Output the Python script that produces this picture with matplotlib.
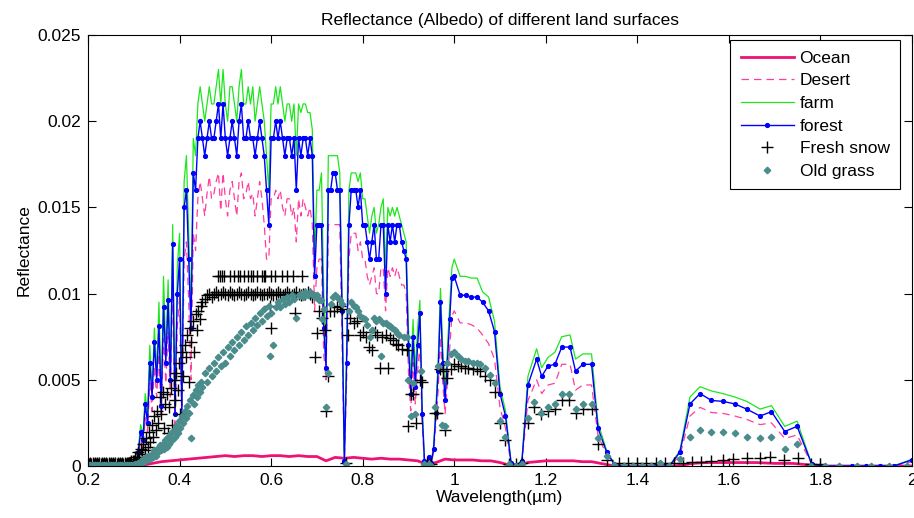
import numpy as np
import matplotlib
matplotlib.use("Agg")
import matplotlib.pyplot as plt

plt.rcParams['font.family'] = ['Liberation Sans', 'DejaVu Sans']

# ---- wavelength grids (um) ----
wl_uv = [0.20, 0.25, 0.29]
wl_band = np.round(np.arange(0.300, 1.0001, 0.005), 3)          # 0.300 .. 1.000
wl_ir = [1.013, 1.025, 1.037, 1.05, 1.062, 1.075, 1.088, 1.10, 1.112, 1.124,
         1.136, 1.148, 1.161, 1.18, 1.191, 1.205, 1.22, 1.235, 1.253, 1.265,
         1.281, 1.30, 1.314, 1.333, 1.35, 1.37, 1.39, 1.41, 1.43, 1.45,
         1.47, 1.493, 1.515, 1.537, 1.562, 1.587, 1.613, 1.639, 1.668, 1.693,
         1.722, 1.749, 1.781, 1.81, 1.84, 1.87, 1.90, 1.93, 1.96, 2.0]

# ---- reflectance, units of 1e-3 ----
zeros_uv = [0.0, 0.0, 0.0]

forest_band = [
    0, 0.2, 0.8, 2.0, 1.5, 3.6, 2.5, 6.0, 4.0, 7.2,
    5.0, 8.1, 3.5, 9.2, 6.0, 9.6, 5.0, 12.9, 3.0, 10.0,
    12.0, 3.0, 15.0, 16.0, 12.0, 8.0, 17.0, 16.0, 19.0, 20.0,
    19, 18, 19, 20, 19, 19, 20, 21, 19, 21,
    19, 18, 19, 20, 19, 18, 20, 21, 19, 19,
    20, 19, 19, 18, 19, 20, 19, 18, 16, 14,
    19, 19, 20, 19, 20, 19, 18, 19, 19, 18,
    19, 16, 19, 18, 19, 19, 18, 19, 18, 11,
    14, 14, 14, 8, 5.7, 16, 16, 17, 17, 16,
    16, 9, 0.3, 6, 14, 16, 16, 16, 15, 16,
    14, 14, 13, 12, 13, 14, 12, 12, 14, 14,
    10, 14, 13, 14, 13, 14, 14, 13, 12.5, 12,
    7, 4.2, 7.5, 4.6, 7, 8.9, 3, 0.3, 0.1, 0.5,
    0.2, 1.0, 3.1, 5.5, 9.5, 6.0, 3.8, 6.0, 8.5, 10.9,
    11.0]
forest_ir = [
    9.9, 9.9, 9.8, 9.8, 9.5, 9.0, 7.8, 4.2, 2.9, 0.2,
    0.0, 0.3, 4.7, 6.2, 5.2, 5.8, 5.9, 6.9, 6.9, 5.5,
    5.9, 5.9, 2.2, 0.8, 0.1, 0, 0, 0, 0, 0.15,
    0, 0.8, 3.6, 4.2, 3.8, 3.75, 3.6, 3.3, 2.9, 3.15,
    2.0, 2.3, 0.1, 0, 0, 0, 0, 0, 0, 0.35]

farm_band = [
    0, 0.3, 1.0, 2.4, 1.8, 4.2, 3.0, 7.0, 4.5, 8.0,
    5.5, 9.5, 4.0, 11.0, 6.5, 10.8, 5.5, 14.0, 3.5, 11.5,
    13.5, 3.5, 16.5, 18.0, 13.5, 9.0, 19.0, 18.0, 21.0, 22.0,
    21, 20, 21, 22, 21, 21, 22, 23, 21, 23,
    21, 20, 22, 22, 21, 20, 22, 23, 21, 21,
    22, 21, 22, 20, 21, 22, 21, 20, 18, 16,
    21, 21, 22, 21, 22, 21, 20, 21, 21, 20,
    21, 18, 21, 20.5, 21, 21, 20.5, 20.5, 19.5, 12,
    16, 16, 17, 10, 7, 18, 18, 18, 18, 18,
    17, 10, 0.4, 7, 16, 17, 17, 17, 16.5, 17,
    15.5, 15.5, 14.5, 13.5, 14.5, 15, 13.5, 14, 15, 15.5,
    11.5, 15, 14.5, 15, 14.5, 15, 14.5, 14, 13.5, 13,
    8, 5, 8.5, 5.5, 8, 9.6, 3.5, 0.4, 0.1, 0.6,
    0.3, 1.2, 3.5, 6.2, 10.3, 6.8, 4.3, 6.8, 9.3, 11.5,
    12.0]
farm_ir = [
    11.0, 11.0, 10.9, 10.9, 10.1, 9.8, 8.4, 4.6, 3.2, 0.3,
    0.0, 0.4, 5.2, 6.8, 5.7, 6.3, 6.6, 7.5, 7.6, 6.2,
    6.5, 6.5, 2.5, 0.9, 0.1, 0, 0, 0, 0, 0.2,
    0, 0.9, 4.0, 4.6, 4.35, 4.2, 4.0, 3.75, 3.3, 3.5,
    2.3, 2.6, 0.1, 0, 0, 0, 0, 0, 0, 0.4]

desert_band = [
    0, 0.1, 0.6, 1.5, 1.0, 2.8, 2.0, 4.8, 3.2, 5.8,
    4.0, 6.5, 2.8, 7.4, 4.8, 7.8, 4.0, 10.5, 2.4, 8.0,
    9.8, 2.5, 12.0, 13.0, 9.5, 5.0, 13.5, 12.5, 15.5, 16.5,
    15.5, 14.5, 15.8, 16.8, 15.5, 15.8, 16.5, 17.0, 14.8, 17.0,
    15.5, 14.5, 16.0, 16.5, 15.5, 14.5, 16.5, 17.0, 15.5, 15.8,
    16.5, 15.5, 15.8, 14.5, 15.5, 16.5, 15.5, 14.0, 12.0, 12.0,
    15.5, 15.5, 16.0, 15.5, 16.0, 15.0, 14.5, 15.5, 15.5, 14.5,
    15.0, 13.0, 15.5, 14.5, 15.5, 15.0, 14.5, 15.0, 14.0, 9.0,
    11.5, 12, 12, 6.5, 5.0, 14, 14, 14, 14, 14,
    14, 7, 0.2, 5, 12, 13.5, 13.5, 13.5, 12.5, 13,
    12, 12, 11, 10.5, 11, 11.5, 10, 10, 11.5, 11.5,
    9, 11.5, 11, 11.5, 11, 11.5, 11, 10.5, 10.5, 10,
    5.5, 3.2, 6, 3.6, 5.5, 7, 2.4, 0.2, 0.1, 0.4,
    0.2, 0.8, 2.5, 4.4, 7.5, 4.8, 3.0, 4.8, 6.8, 8.7,
    9.0]
desert_ir = [
    8.3, 8.3, 8.2, 8.0, 7.6, 7.1, 6.2, 3.4, 2.2, 0.1,
    0.0, 0.2, 3.8, 5.0, 4.2, 4.7, 4.8, 5.9, 5.9, 4.4,
    4.7, 4.7, 1.8, 0.6, 0.1, 0, 0, 0, 0, 0.1,
    0, 0.6, 2.9, 3.4, 3.1, 3.05, 2.9, 2.7, 2.4, 2.5,
    1.6, 1.8, 0.1, 0, 0, 0, 0, 0, 0, 0.25]

ocean_wl = [0.20,
            0.30, 0.32, 0.34, 0.36, 0.38, 0.40, 0.42, 0.44, 0.46, 0.48,
            0.50, 0.52, 0.54, 0.56, 0.58, 0.60, 0.62, 0.64, 0.66, 0.68,
            0.70, 0.72, 0.74, 0.76, 0.78, 0.80, 0.82, 0.84, 0.86, 0.88,
            0.90, 0.92, 0.94, 0.96, 0.98, 1.00, 1.02, 1.04, 1.06, 1.08,
            1.10, 1.12, 1.14, 1.16, 1.18, 1.20, 1.22, 1.24, 1.26, 1.28,
            1.30, 1.32, 1.34,
            1.36, 1.40, 1.44, 1.48, 1.50, 1.52, 1.55, 1.58, 1.62, 1.66,
            1.70, 1.74, 1.78, 1.80, 2.00]
ocean = [0.0,
         0.0, 0.05, 0.15, 0.25, 0.3, 0.35, 0.4, 0.45, 0.5, 0.55,
         0.6, 0.55, 0.6, 0.6, 0.55, 0.6, 0.6, 0.55, 0.6, 0.55,
         0.55, 0.3, 0.5, 0.45, 0.5, 0.45, 0.4, 0.45, 0.4, 0.4,
         0.35, 0.3, 0.1, 0.2, 0.4, 0.35, 0.35, 0.35, 0.3, 0.3,
         0.2, 0.05, 0.05, 0.2, 0.25, 0.3, 0.3, 0.3, 0.3, 0.25,
         0.25, 0.15, 0.05,
         0.0, 0.0, 0.0, 0.0, 0.05, 0.15, 0.2, 0.2, 0.2, 0.2,
         0.15, 0.15, 0.05, 0.0, 0.0]

# scatter series share these regular blocks, then carry their own points
wl_flat = np.round(np.arange(0.200, 0.2999, 0.0025), 4)  # 0.2000 .. 0.2975
wl_rise = np.round(np.arange(0.300, 0.4499, 0.003), 3)   # 0.300 .. 0.447
wl_vis = np.round(np.arange(0.450, 0.6999, 0.005), 3)    # 0.450 .. 0.695

snow_flat = [0.2, 0.1, 0.2, 0.1, 0.2, 0.1, 0.2, 0.1, 0.2, 0.1,
             0.2, 0.1, 0.2, 0.1, 0.2, 0.1, 0.2, 0.1, 0.2, 0.1,
             0.2, 0.1, 0.2, 0.1, 0.2, 0.1, 0.2, 0.1, 0.2, 0.1,
             0.2, 0.1, 0.2, 0.1, 0.2, 0.2, 0.2, 0.2, 0.3, 0.3]
snow_rise = [0.3, 0.5, 0.4, 0.8, 0.5, 1.0, 0.7, 1.3, 0.9, 1.6,
             1.1, 2.0, 1.4, 2.4, 1.7, 2.9, 2.1, 3.2, 2.5, 4.0,
             3.0, 4.3, 2.2, 3.6, 4.2, 1.9, 3.4, 4.5, 2.4, 5.0,
             3.8, 5.4, 4.4, 6.0, 3.0, 6.6, 5.2, 7.0, 6.3, 7.6,
             4.9, 8.0, 7.2, 8.4, 6.6, 8.8, 7.9, 9.0, 8.5, 9.3]
snow_vis = [9.5, 9.7, 9.9, 10.0, 9.8, 10.0, 10.1, 9.9, 10.0, 10.1,
            10.0, 9.9, 10.1, 10.0, 9.9, 10.0, 10.1, 10.0, 9.9, 10.0,
            10.1, 10.0, 9.9, 10.0, 10.1, 10.0, 9.9, 10.0, 10.0, 10.1,
            10.0, 9.9, 10.0, 10.1, 10.0, 9.9, 10.0, 10.1, 10.0, 9.9,
            10.0, 10.1, 10.0, 9.9, 10.0, 10.0, 10.1, 10.0, 9.8, 6.3]
snow_wl_extra = [
    0.485, 0.489, 0.492, 0.496, 0.510, 0.520, 0.527, 0.532, 0.540, 0.549,
    0.555, 0.560, 0.569, 0.580, 0.584, 0.587, 0.600, 0.608, 0.624, 0.635,
    0.647, 0.667, 0.598, 0.600, 0.652,
    0.700, 0.705, 0.712, 0.718, 0.720, 0.725, 0.728, 0.737, 0.745, 0.750,
    0.755, 0.763, 0.768, 0.773, 0.780, 0.787, 0.795, 0.800, 0.808, 0.814,
    0.820, 0.826, 0.832, 0.837, 0.842, 0.850, 0.855, 0.860, 0.866, 0.872,
    0.878, 0.885, 0.897, 0.900, 0.905, 0.910, 0.917, 0.925, 0.930, 0.940,
    0.950, 0.958, 0.962, 0.970, 0.975, 0.980, 0.985, 0.992, 1.000, 1.008,
    1.015, 1.023, 1.030, 1.040, 1.050, 1.057, 1.067, 1.078, 1.089, 1.100,
    1.110, 1.120, 1.136, 1.148, 1.161, 1.175, 1.190, 1.205, 1.220, 1.235,
    1.250, 1.265, 1.281, 1.300, 1.314, 1.333, 1.360, 1.380, 1.400, 1.420,
    1.440, 1.460, 1.480, 1.500, 1.520, 1.540, 1.560, 1.587, 1.610, 1.640,
    1.668, 1.690, 1.720, 1.750, 1.780, 1.800]
snow_extra = [
    11.0, 11.0, 11.0, 11.0, 11.0, 11.0, 11.0, 11.0, 11.0, 11.0,
    11.0, 11.0, 11.0, 11.0, 11.0, 11.0, 11.0, 11.0, 11.0, 11.0,
    11.0, 11.0, 9.3, 8.0, 8.9,
    7.7, 9.0, 8.6, 7.9, 3.2, 5.2, 9.0, 9.0, 9.2, 9.3,
    9.1, 0.2, 7.6, 8.6, 8.3, 8.4, 7.6, 7.8, 7.5, 6.9,
    6.7, 7.8, 7.6, 5.7, 7.5, 7.6, 5.7, 7.4, 7.3, 7.1,
    7.0, 6.8, 6.7, 2.3, 4.2, 4.2, 2.5, 5.0, 4.9, 0.2,
    0.1, 3.1, 3.1, 5.6, 5.5, 2.1, 5.1, 5.6, 5.9, 5.8,
    5.8, 5.7, 5.7, 5.6, 5.6, 5.5, 5.2, 5.0, 4.3, 2.5,
    1.5, 0.1, 0.1, 0.2, 2.5, 3.4, 3.0, 3.2, 3.3, 3.8,
    3.8, 3.1, 3.3, 3.3, 1.3, 0.35, 0.15, 0.15, 0.2, 0.15,
    0.15, 0.15, 0.15, 0.2, 0.25, 0.25, 0.3, 0.35, 0.4, 0.45,
    0.45, 0.52, 0.35, 0.45, 0.1, 0.1]

grass_flat = [0.05, 0.0, 0.05, 0.0, 0.05, 0.0, 0.05, 0.0, 0.05, 0.0,
              0.05, 0.0, 0.05, 0.0, 0.05, 0.0, 0.05, 0.0, 0.05, 0.0,
              0.05, 0.0, 0.05, 0.0, 0.05, 0.0, 0.05, 0.0, 0.05, 0.0,
              0.05, 0.0, 0.05, 0.0, 0.05, 0.0, 0.05, 0.0, 0.05, 0.05]
grass_rise = [0.05, 0.1, 0.1, 0.2, 0.1, 0.3, 0.2, 0.4, 0.3, 0.5,
              0.4, 0.6, 0.4, 0.7, 0.5, 0.9, 0.6, 1.0, 0.8, 1.2,
              0.9, 1.3, 1.0, 1.5, 1.1, 1.7, 1.3, 1.9, 1.5, 2.1,
              1.7, 2.3, 1.9, 2.6, 2.2, 2.9, 2.5, 3.2, 2.8, 3.5,
              3.1, 3.8, 1.6, 4.1, 3.6, 4.4, 4.0, 4.7, 4.3, 4.9]
grass_vis = [4.6, 5.4, 4.9, 5.7, 5.2, 6.0, 5.5, 6.3, 5.8, 6.6,
             6.0, 6.9, 6.4, 7.2, 6.7, 7.5, 7.0, 7.8, 7.3, 8.1,
             7.6, 8.3, 7.9, 8.6, 8.2, 8.9, 8.4, 9.1, 8.7, 9.3,
             8.9, 7.0, 9.2, 9.5, 9.2, 9.7, 9.4, 9.8, 9.5, 9.9,
             9.7, 8.6, 9.9, 10.0, 9.8, 10.1, 9.9, 10.1, 10.0, 9.8]
grass_wl_extra = [
    0.598,
    0.700, 0.705, 0.708, 0.712, 0.716, 0.720, 0.724, 0.730, 0.735, 0.740,
    0.745, 0.750, 0.755, 0.763, 0.770, 0.775, 0.780, 0.785, 0.790, 0.795,
    0.800, 0.805, 0.810, 0.815, 0.820, 0.825, 0.830, 0.835, 0.840, 0.845,
    0.850, 0.855, 0.860, 0.865, 0.870, 0.875, 0.880, 0.890, 0.897, 0.900,
    0.905, 0.910, 0.915, 0.927, 0.935, 0.940, 0.945, 0.950, 0.958, 0.965,
    0.973, 0.980, 0.985, 0.993, 1.000, 1.008, 1.015, 1.023, 1.030, 1.040,
    1.050, 1.057, 1.067, 1.078, 1.089, 1.100, 1.110, 1.120, 1.136, 1.148,
    1.161, 1.175, 1.190, 1.205, 1.220, 1.235, 1.250, 1.265, 1.281, 1.300,
    1.314, 1.333, 1.350, 1.370, 1.390, 1.410, 1.430, 1.450, 1.470, 1.493,
    1.515, 1.537, 1.562, 1.587, 1.613, 1.639, 1.668, 1.693, 1.722, 1.749,
    1.780, 1.810, 1.840, 1.880, 1.910, 1.950, 1.990]
grass_extra = [
    6.4,
    9.9, 9.6, 9.6, 8.5, 9.1, 3.4, 5.4, 9.4, 9.8, 9.9,
    9.8, 9.6, 9.4, 0.1, 9.0, 9.5, 9.3, 9.2, 9.0, 8.7,
    8.6, 8.5, 8.2, 7.5, 7.9, 8.6, 8.4, 8.5, 6.4, 8.3,
    8.3, 8.2, 8.1, 8.0, 7.9, 7.7, 7.6, 7.5, 7.5, 5.0,
    2.9, 4.8, 3.0, 5.5, 0.1, 0.0, 0.1, 0.0, 3.4, 5.8,
    2.4, 2.3, 6.0, 6.5, 6.6, 6.4, 6.2, 6.1, 6.1, 6.0,
    6.0, 5.9, 5.7, 5.3, 4.8, 2.6, 1.7, 0.1, 0.0, 0.1,
    2.8, 3.7, 3.1, 3.4, 3.6, 4.2, 4.2, 3.3, 3.6, 3.6,
    1.6, 0.6, 0.05, 0.0, 0.0, 0.0, 0.0, 0.2, 0.0, 0.4,
    1.7, 2.1, 2.0, 2.0, 1.9, 1.7, 1.6, 1.7, 1.0, 1.25,
    0.0, 0.0, 0.0, 0.0, 0.0, 0.0, 0.0]

# ---- assemble ----
wl = np.concatenate([wl_uv, wl_band, wl_ir])
forest = np.array(zeros_uv + forest_band + forest_ir) * 1e-3
farm = np.array(zeros_uv + farm_band + farm_ir) * 1e-3
desert = np.array(zeros_uv + desert_band + desert_ir) * 1e-3
ocean_r = np.array(ocean) * 1e-3

snow_wl = np.concatenate([wl_flat, wl_rise, wl_vis, snow_wl_extra])
snow = np.array(snow_flat + snow_rise + snow_vis + snow_extra) * 1e-3
grass_wl = np.concatenate([wl_flat, wl_rise, wl_vis, grass_wl_extra])
grass = np.array(grass_flat + grass_rise + grass_vis + grass_extra) * 1e-3

# ---- figure ----
fig = plt.figure(figsize=(9.14, 5.18), dpi=100)
ax = fig.add_axes([88 / 914, 1 - 466 / 518, 824 / 914, 431 / 518])

ax.plot(ocean_wl, ocean_r, color='#ee1277', lw=2.0, label='Ocean')
ax.plot(wl, desert, color='#ff3d9e', lw=0.9, ls=(0, (6, 4)), label='Desert')
ax.plot(wl, farm, color='#1ee61e', lw=0.9, label='farm')
ax.plot(wl, forest, color='#0000ff', lw=1.0, marker='.', ms=5.5, label='forest')
ax.plot(snow_wl, snow, ls='none', marker='+', ms=8, mew=1.0, color='black',
        label='Fresh snow')
ax.plot(grass_wl, grass, ls='none', marker='D', ms=3.3, color='#4a8c8c',
        mec='#4a8c8c', label='Old grass')

ax.set_xlim(0.2, 2.0)
ax.set_ylim(0, 0.025)
xt = [0.2, 0.4, 0.6, 0.8, 1.0, 1.2, 1.4, 1.6, 1.8, 2.0]
ax.set_xticks(xt)
ax.set_xticklabels(['0.2', '0.4', '0.6', '0.8', '1', '1.2', '1.4', '1.6', '1.8', '2'])
yt = [0, 0.005, 0.01, 0.015, 0.02, 0.025]
ax.set_yticks(yt)
ax.set_yticklabels(['0', '0.005', '0.01', '0.015', '0.02', '0.025'])
ax.tick_params(direction='in', top=True, right=True, length=6, width=0.8,
               labelsize=12.5, pad=5)
for s in ax.spines.values():
    s.set_linewidth(0.8)

ax.set_title('Reflectance (Albedo) of different land surfaces', fontsize=12.5, pad=7)
ax.set_xlabel('Wavelength(\u00b5m)', fontsize=12.5)
ax.set_ylabel('Reflectance', fontsize=12.5)
ax.xaxis.set_label_coords(0.5, -0.056)
ax.xaxis.label.set_va('top')
ax.yaxis.set_label_coords(-0.069, 0.5)

leg = ax.legend(loc='upper right', bbox_to_anchor=(0.9854, 0.988), borderaxespad=0,
                fontsize=12.5, fancybox=False, framealpha=1, edgecolor='black',
                handlelength=3.1, handletextpad=0.3, labelspacing=0.43, borderpad=0.6)
leg.get_frame().set_linewidth(0.8)

fig.savefig('out.png', dpi=100)
